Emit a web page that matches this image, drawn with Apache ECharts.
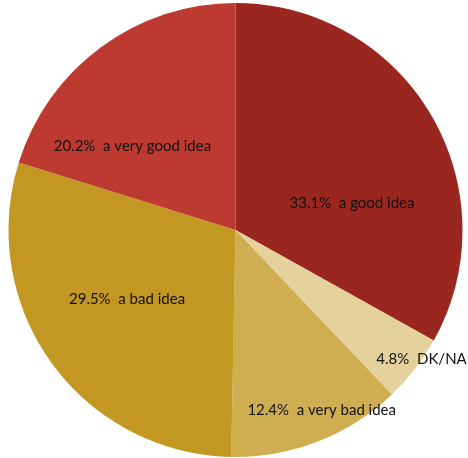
<!DOCTYPE html>
<html>
<head>
<meta charset="utf-8">
<script src="https://cdn.jsdelivr.net/npm/echarts@6/dist/echarts.min.js"></script>
<style>
  html, body { margin: 0; padding: 0; background: #fff; }
  #chart { width: 468px; height: 458px; }
</style>
</head>
<body>
<div id="chart"></div>
<script>
// data, clockwise from 12 o'clock
var categories = ['a good idea', 'DK/NA', 'a very bad idea', 'a bad idea', 'a very good idea'];
var shares = [33.1, 4.8, 12.4, 29.5, 20.2];
var colors = ['#9a271f', '#e5d19b', '#cfae52', '#c39822', '#bd3a31'];
// nudges for the labels, away from the default inside spot
var labelOffsets = [[16, 32], [94, 58], [44, 72], [-14, 1], [-34, 10]];

var pieData = [];
for (var i = 0; i < categories.length; i++) {
    pieData.push({
        value: shares[i],
        name: categories[i],
        itemStyle: { color: colors[i] },
        label: { offset: labelOffsets[i] }
    });
}

var myChart = echarts.init(document.getElementById('chart'));
var option = {
    animation: false,
    series: [
        {
            type: 'pie',
            center: [235.5, 230],
            radius: [0, 227],
            startAngle: 90,
            clockwise: true,
            label: {
                show: true,
                position: 'inside',
                color: '#111',
                fontFamily: 'Lato',
                fontSize: 15,
                formatter: function (p) {
                    return p.value.toFixed(1) + '%  ' + p.name;
                }
            },
            labelLine: { show: false },
            emphasis: { disabled: true },
            data: pieData
        }
    ]
};
myChart.setOption(option);
</script>
</body>
</html>
